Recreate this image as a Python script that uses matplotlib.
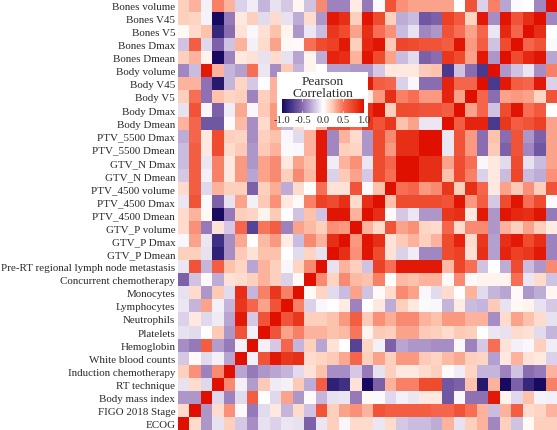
import numpy as np
import matplotlib
matplotlib.use("Agg")
import matplotlib.pyplot as plt
from matplotlib.colors import LinearSegmentedColormap
from matplotlib.patches import Rectangle

# variable names from the bottom row / first column upward
variables = ["ECOG", "FIGO 2018 Stage", "Body mass index", "RT technique", "Induction chemotherapy",
             "White blood counts", "Hemoglobin", "Platelets", "Neutrophils", "Lymphocytes", "Monocytes",
             "Concurrent chemotherapy", "Pre-RT regional lymph node metastasis", "GTV_P Dmean", "GTV_P Dmax",
             "GTV_P volume", "PTV_4500 Dmean", "PTV_4500 Dmax", "PTV_4500 volume", "GTV_N Dmean", "GTV_N Dmax",
             "PTV_5500 Dmean", "PTV_5500 Dmax", "Body Dmean", "Body Dmax", "Body V5", "Body V45", "Body volume",
             "Bones Dmean", "Bones Dmax", "Bones V5", "Bones V45", "Bones volume"]

# correlation of each variable with itself and every later variable (upper triangle)
ecog = [1,.15,-.35,-.1,.2,-.18,-.38,-.1,-.15,-.08,-.1,-.55,-.08,.2,-.03,.15,.15,-.08,.15,-.18,-.22,-.22,-.28,.3,-.1,.2,.3,-.4,.2,-.2,.03,.2,.2]
figo = [1,-.35,.15,.4,.02,-.45,-.12,.1,-.25,.15,-.2,.65,.2,.35,.4,.3,.65,.6,.6,.6,.6,.55,.55,.65,.5,.3,-.22,.3,.6,.15,.18,.3]
bmi = [1,-.13,-.42,-.12,.6,0,-.13,.35,-.35,.02,-.25,-.1,-.08,-.45,.03,-.02,-.13,-.05,-.08,.1,.1,-.6,-.03,-.48,-.48,.95,.05,-.13,.25,-.04,-.05]
rt = [1,.42,-.05,-.33,.22,-.07,-.05,.22,-.28,.6,-.88,-.8,.12,-1,-.55,.3,.45,.45,.7,.7,-.6,-.55,.25,-.92,.3,-1,-.55,-.85,-1,.45]
induction = [1,-.3,-.45,-.35,-.3,-.25,-.12,.12,.25,-.38,-.38,-.18,-.45,-.1,.2,.1,.1,.15,.2,.02,-.06,.18,-.25,-.25,-.42,-.2,-.5,-.45,.3]
wbc = [1,-.05,.65,.95,.8,.85,.15,.18,.22,.33,.55,.2,.35,.2,.38,.38,.22,.18,.28,.33,.2,.18,-.32,.1,.3,.12,.1,-.15]
hgb = [1,-.05,-.18,.55,-.25,.2,-.3,.12,0,-.7,.18,-.05,-.55,-.3,-.35,-.35,-.38,-.38,-.03,-.42,-.18,.5,.12,-.05,-.03,.2,-.06]
platelets = [1,.65,.35,.45,.3,.3,.25,.28,.48,.05,.22,.2,.35,.35,.22,.2,.15,.22,.2,0,-.08,-.1,.15,.13,-.12,-.25]
neutrophils = [1,.65,.8,.2,.2,.25,.38,.6,.22,.4,.32,.42,.42,.3,.25,.38,.38,.3,.3,-.38,.15,.35,.25,.15,-.1]
lymphocytes = [1,.45,-.15,-.03,0,.08,-.42,0,.1,-.28,.2,.1,-.02,-.03,-.25,.08,-.22,-.25,.22,-.1,.03,.05,-.1,-.18]
monocytes = [1,.03,.18,-.12,-.22,.35,-.2,.02,.15,.42,.35,-.03,-.12,.15,0,.3,-.12,-.25,-.3,.02,-.35,-.28,.04]
concurrent = [1,.42,.18,.42,.28,.25,.45,0,.28,.25,.3,.3,.02,.42,.02,.05,.05,.05,.5,-.08,.15,-.2]
pre_rt = [1,-.1,.3,.2,-.2,.75,.5,.95,.95,.95,.95,.28,.72,.5,-.2,0,-.28,.7,-.22,-.35,.42]
gtv_p_dmean = [1,.85,.4,.97,.7,.12,-.15,-.06,-.4,-.4,.7,.75,.13,.85,-.32,.9,.75,.8,.95,-.42]
gtv_p_dmax = [1,.38,.97,.85,.12,.22,.3,.2,.3,.7,.9,.15,.8,-.32,.85,.95,.7,.85,-.42]
gtv_p_volume = [1,.3,.15,.65,.35,.4,.18,.15,.55,.15,.42,.42,-.35,.3,.2,.35,.2,.08]
ptv4500_dmean = [1,.85,.02,-.18,-.08,-.35,-.35,.8,.85,.1,.95,-.35,.97,.88,.85,.97,-.45]
ptv4500_dmax = [1,.25,.7,.7,.7,.7,.65,.97,.38,.6,-.18,.7,.97,.5,.7,-.02]
ptv4500_volume = [1,.5,.55,.38,.42,.8,.2,.85,.55,.1,.35,.22,.4,.2,.65]
gtv_n_dmean = [1,1,.85,.85,.25,.7,.45,-.15,.1,-.22,.72,-.22,-.28,.4]
gtv_n_dmax = [1,.85,.85,.35,.68,.5,-.03,.1,-.12,.7,-.1,-.22,.35]
ptv5500_dmean = [1,1,-.08,.65,.38,-.5,.22,-.55,.65,-.4,-.6,.35]
ptv5500_dmax = [1,-.08,.65,.38,-.5,.25,-.5,.65,-.35,-.55,.35]
body_dmean = [1,.6,.9,.9,-.75,.8,.6,.65,.75,.35]
body_dmax = [1,.35,.55,-.2,.7,.97,.5,.62,0]
body_v5 = [1,.55,-.5,.35,.38,.35,.18,.65]
body_v45 = [1,-.75,.95,.6,.55,.95,-.15]
body_volume = [1,-.35,-.2,-.08,-.38,.45]
bones_dmean = [1,.7,.88,.97,-.3]
bones_dmax = [1,.55,.65,-.02]
bones_v5 = [1,.85,0]
bones_v45 = [1,-.4]
bones_volume = [1]

triangle = [ecog, figo, bmi, rt, induction, wbc, hgb, platelets, neutrophils, lymphocytes, monocytes,
            concurrent, pre_rt, gtv_p_dmean, gtv_p_dmax, gtv_p_volume, ptv4500_dmean, ptv4500_dmax,
            ptv4500_volume, gtv_n_dmean, gtv_n_dmax, ptv5500_dmean, ptv5500_dmax, body_dmean, body_dmax,
            body_v5, body_v45, body_volume, bones_dmean, bones_dmax, bones_v5, bones_v45, bones_volume]

n = len(variables)
matrix = np.zeros((n, n))
for i, row in enumerate(triangle):
    for k, value in enumerate(row):
        matrix[i, i + k] = value
        matrix[i + k, i] = value

cmap = LinearSegmentedColormap.from_list("pearson", [
    (0.0, "#170a60"), (0.125, "#4a3a8e"), (0.25, "#8a6bb0"), (0.375, "#c4b4da"), (0.5, "#ffffff"),
    (0.625, "#fdc4ae"), (0.75, "#f76f55"), (0.875, "#ec4226"), (1.0, "#e01000")])

W, H = 557, 431
fig = plt.figure(figsize=(W / 100, H / 100), dpi=100)
plt.rcParams["font.family"] = ["Liberation Serif", "DejaVu Serif"]

ax = fig.add_axes([178 / W, 0, (W - 178) / W, 1])
mesh = ax.pcolormesh(np.arange(n + 1), np.arange(n + 1), matrix, cmap=cmap, vmin=-1, vmax=1)
ax.set_xlim(0, n)
ax.set_ylim(0, n)
ax.set_xticks([])
ax.set_yticks(np.arange(n) + 0.5)
ax.set_yticklabels(variables, fontsize=7.9, color="#2a2a2a", family="Liberation Serif")
ax.tick_params(axis="y", length=0, pad=2)
for s in ax.spines.values():
    s.set_visible(False)

# legend box
fig.add_artist(Rectangle((277 / W, 1 - 128 / H), 91 / W, 55 / H, transform=fig.transFigure,
                         facecolor="white", edgecolor="none", zorder=3))
cax = fig.add_axes([282 / W, 1 - 114 / H, 82 / W, 14 / H], zorder=4)
cb = fig.colorbar(mesh, cax=cax, orientation="horizontal")
cb.set_ticks([-1, -0.5, 0, 0.5, 1])
cb.set_ticklabels(["-1.0", "-0.5", "0.0", "0.5", "1.0"], fontsize=7.6, family="Liberation Serif", color="#2a2a2a")
cb.outline.set_visible(False)
cax.tick_params(axis="x", length=0, pad=1.2)
for v in [-0.5, 0, 0.5]:
    cax.plot([v, v], [0, 0.15], color="white", lw=0.5)
    cax.plot([v, v], [0.85, 1], color="white", lw=0.5)
fig.text(323 / W, 1 - 88 / H, "Pearson\nCorrelation", ha="center", va="center", fontsize=9.6,
         family="Liberation Serif", color="#2a2a2a", linespacing=0.95, zorder=5)

fig.savefig("out.png", dpi=100)
